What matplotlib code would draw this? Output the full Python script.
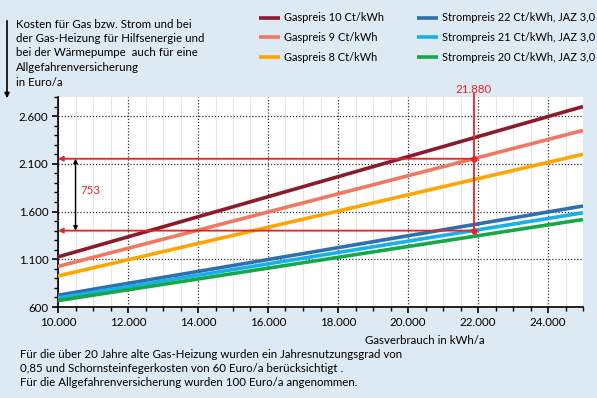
import matplotlib
matplotlib.use("Agg")
import matplotlib.pyplot as plt
from matplotlib.ticker import MultipleLocator, FuncFormatter

x_range = [10000, 25000]
series_labels = ["Gaspreis 10 Ct/kWh", "Gaspreis 9 Ct/kWh", "Gaspreis 8 Ct/kWh",
                 "Strompreis 22 Ct/kWh, JAZ 3,0", "Strompreis 21 Ct/kWh, JAZ 3,0",
                 "Strompreis 20 Ct/kWh, JAZ 3,0"]
gas10 = [1125, 2700]
gas9 = [1025, 2450]
gas8 = [925, 2200]
strom22 = [723, 1658]
strom21 = [695, 1587]
strom20 = [667, 1517]
colors = ["#8b1a2b", "#f07860", "#ffa500", "#2e6fb0", "#17b0ea", "#16a848"]
y_ticks = [600, 1100, 1600, 2100, 2600]

mark_x = 21880
mark_upper = 2153
mark_lower = 1400
mark_diff = "753"
mark_xlabel = "21.880"

bg = "#dde9f3"
FS = 8.3
LFS = 7.9
fig = plt.figure(figsize=(5.97, 3.98), dpi=100, facecolor=bg)
plt.rcParams['font.family'] = ['Lato', 'DejaVu Sans']
W, H = 597, 398
ax = fig.add_axes([58 / W, 1 - 307 / H, (583 - 58) / W, (307 - 97) / H])
ax.set_facecolor("white")

lines = []
for vals, c, lab in zip([gas10, gas9, gas8, strom22, strom21, strom20], colors, series_labels):
    ln, = ax.plot(x_range, vals, color=c, lw=2.6, label=lab, solid_capstyle='butt', zorder=3)
    lines.append(ln)

ax.set_xlim(10000, 25000)
ax.set_ylim(600, 2800)
ax.xaxis.set_major_locator(MultipleLocator(2000))
ax.xaxis.set_minor_locator(MultipleLocator(500))
ax.set_yticks(y_ticks)
ax.yaxis.set_minor_locator(MultipleLocator(100))
fmt = FuncFormatter(lambda v, p: f"{int(v):,}".replace(",", "."))
ax.xaxis.set_major_formatter(fmt)
ax.yaxis.set_major_formatter(fmt)
ax.grid(which='major', color='#333333', ls=(0, (1, 1.5)), lw=0.9, zorder=1)
ax.grid(which='minor', axis='x', color='#e6e6e6', lw=0.8, zorder=0)
for s in ['top', 'right']:
    ax.spines[s].set_visible(False)
ax.spines['left'].set_linewidth(1.2)
ax.spines['bottom'].set_linewidth(1.2)
ax.tick_params(which='major', length=4, width=1.2, labelsize=FS, pad=3)
ax.tick_params(which='minor', length=3, width=1.0)

# red annotation
red = "#e8202a"
ax.plot([mark_x, mark_x], [mark_lower, 2830], color=red, lw=1.3, zorder=4, clip_on=False)
for yv in [mark_upper, mark_lower]:
    ax.annotate("", xy=(10000, yv), xytext=(mark_x, yv),
                arrowprops=dict(arrowstyle='-|>', color=red, lw=1.3, mutation_scale=7,
                                shrinkA=0, shrinkB=0), zorder=4)
    ax.plot([mark_x], [yv], 'o', color=red, ms=3.5, zorder=5)
ax.annotate("", xy=(10500, mark_lower), xytext=(10500, mark_upper),
            arrowprops=dict(arrowstyle='<|-|>', color='black', lw=1.0, mutation_scale=6,
                            shrinkA=0, shrinkB=0), zorder=4)
ax.text(10650, 1820, mark_diff, color=red, fontsize=FS, va='center', ha='left')
ax.annotate(mark_xlabel, xy=(mark_x, 2800), xytext=(0, 1.5), textcoords='offset points',
            color=red, fontsize=FS, ha='center', va='bottom', annotation_clip=False)

# legend (two columns)
leg1 = fig.legend(handles=lines[:3], loc='center left', bbox_to_anchor=(254 / W, 1 - 37.5 / H),
                  frameon=False, fontsize=LFS, handlelength=1.9, handletextpad=0.3,
                  labelspacing=0.78, borderpad=0)
leg2 = fig.legend(handles=lines[3:], loc='center left', bbox_to_anchor=(412 / W, 1 - 37.5 / H),
                  frameon=False, fontsize=LFS, handlelength=1.9, handletextpad=0.3,
                  labelspacing=0.78, borderpad=0)

# left title text
title_lines = ["Kosten für Gas bzw. Strom und bei",
               "der Gas-Heizung für Hilfsenergie und",
               "bei der Wärmepumpe  auch für eine",
               "Allgefahrenversicherung",
               "in Euro/a"]
for i, t in enumerate(title_lines):
    fig.text(16 / W, 1 - (24 + i * 14.5) / H, t, fontsize=FS, va='center', ha='left')
fig.add_artist(matplotlib.patches.FancyArrowPatch((7 / W, 1 - 18 / H), (7 / W, 1 - 101 / H),
               transform=fig.transFigure, arrowstyle='-|>', mutation_scale=7, color='black', lw=1.2))

fig.text(485 / W, 1 - 340 / H, "Gasverbrauch in kWh/a", fontsize=FS, ha='right', va='center')
notes = ["Für die über 20 Jahre alte Gas-Heizung wurden ein Jahresnutzungsgrad von",
         "0,85 und Schornsteinfegerkosten von 60 Euro/a berücksichtigt .",
         "Für die Allgefahrenversicherung wurden 100 Euro/a angenommen."]
for i, t in enumerate(notes):
    fig.text(20 / W, 1 - (354 + i * 14) / H, t, fontsize=FS, ha='left', va='center')

fig.savefig("out.png", dpi=100, facecolor=bg)
